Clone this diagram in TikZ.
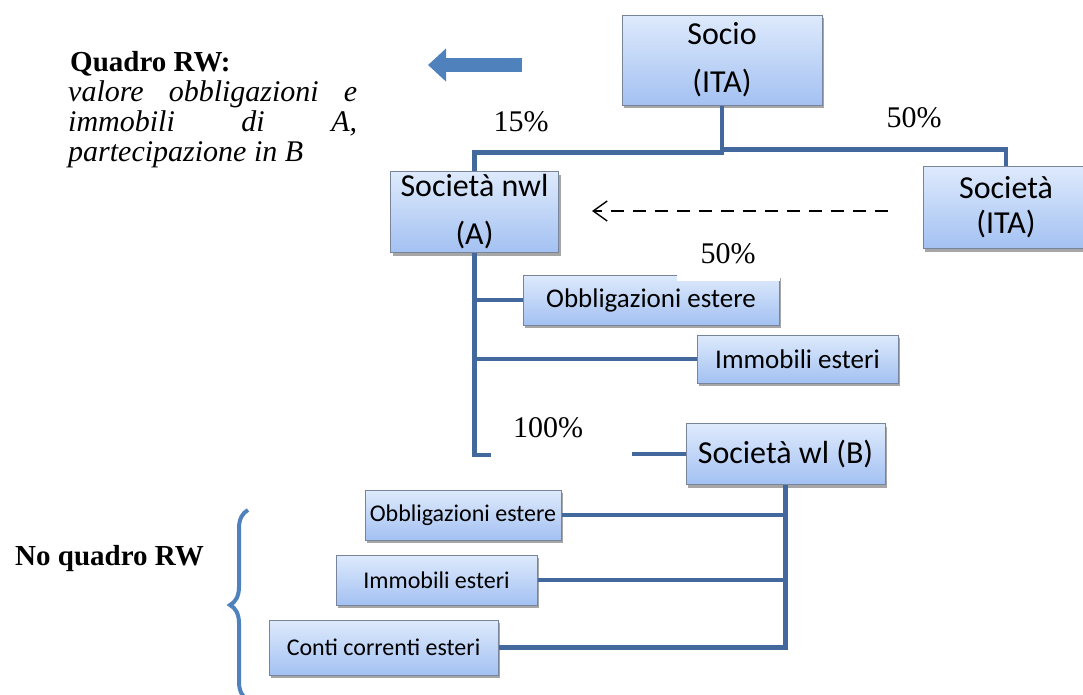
\documentclass[tikz,border=0pt]{standalone}
\usepackage{fontspec}
\setmainfont{Liberation Serif}
\newfontfamily\boxfont{Carlito}
\usetikzlibrary{arrows.meta,shadows,decorations.pathreplacing}
\definecolor{boxtop}{RGB}{222,234,252}
\definecolor{boxbot}{RGB}{163,193,242}
\definecolor{boxline}{RGB}{120,132,155}
\definecolor{linkblue}{RGB}{66,104,158}
\definecolor{arrowblue}{RGB}{79,129,189}

\begin{document}
\begin{tikzpicture}[x=1pt,y=-1pt,
    box/.style={draw=boxline,line width=1pt,top color=boxtop,bottom color=boxbot,
      drop shadow={shadow xshift=2pt,shadow yshift=-3pt,fill=black!50,opacity=0.7},
      inner sep=0pt,align=center},
    big/.style={box,font=\boxfont\fontsize{32}{48}\selectfont},
    mid/.style={box,font=\boxfont\fontsize{27}{30}\selectfont},
    small/.style={box,font=\boxfont\fontsize{24}{26}\selectfont},
    link/.style={draw=linkblue,line width=4.5pt},
    pct/.style={font=\fontsize{30}{30}\selectfont,inner sep=0pt,anchor=base},
    note/.style={font=\bfseries\fontsize{29}{30}\selectfont,inner sep=0pt,anchor=base west}]
  \useasboundingbox (0,0) rectangle (1083,694);

  \node[big,minimum width=200pt,minimum height=90pt] (socio) at (722,60) {Socio\\(ITA)};
  \node[big,minimum width=168pt,minimum height=81pt] (nwl) at (474.5,212) {Società nwl\\(A)};
  \node[big,minimum width=166pt,minimum height=82pt,font=\boxfont\fontsize{32}{35}\selectfont] (socita) at (1006,207.5) {Società\\(ITA)};
  \node[big,minimum width=199pt,minimum height=61pt] (wl) at (785.5,454) {Società wl (B)};
  \node[mid,minimum width=256pt,minimum height=50pt] (obbA) at (651,300) {Obbligazioni estere};
  \node[mid,minimum width=201pt,minimum height=48pt] (immA) at (797.5,359) {Immobili esteri};
  \node[small,minimum width=196pt,minimum height=50pt] (obbB) at (463,515) {Obbligazioni estere};
  \node[small,minimum width=201pt,minimum height=50pt] (immB) at (436.5,580) {Immobili esteri};
  \node[small,minimum width=229pt,minimum height=55pt] (contB) at (383.5,647.5) {Conti correnti esteri};

  \draw[link] (socio.south) -- ++(0,47) -| (nwl.north);
  \draw[link] (socio.south) -- ++(0,44) -| (socita.north);

  \coordinate (stubA) at (491,455);
  \draw[link] (nwl.south) |- (stubA);
  \draw[link] (obbA.west) -- (obbA.west -| nwl.south);
  \draw[link] (immA.west) -- (immA.west -| nwl.south);
  \coordinate (stubB) at (632,454);
  \draw[link] (stubB) -- (wl.west);

  \draw[link] (wl.south) |- (contB.east);
  \draw[link] (obbB.east) -- (obbB.east -| wl.south);
  \draw[link] (immB.east) -- (immB.east -| wl.south);

  \coordinate (dashfrom) at (888,211);
  \coordinate (dashto) at (592,211);
  \draw[dash pattern=on 13pt off 9pt,line width=1.4pt,-{Straight Barb[length=14pt,width=20pt]}] (dashfrom) -- (dashto);

  \coordinate (rwfrom) at (522,65);
  \coordinate (rwto) at (428,65);
  \draw[arrowblue,line width=14pt,-{Triangle[length=18pt,width=32pt]}] (rwfrom) -- (rwto);

  \coordinate (bracetop) at (248,510);
  \coordinate (bracebot) at (248,700);
  \draw[arrowblue,line width=4pt,decorate,decoration={brace,amplitude=18pt}] (bracebot) -- (bracetop);

  \node[pct] (p15) at (521,131) {15\%};
  \node[pct] (p50a) at (914,127) {50\%};
  \node[pct,fill=white,inner xsep=24pt,inner ysep=18pt] (p50b) at (728,263) {50\%};
  \node[pct] (p100) at (548,437) {100\%};

  \node[note] (quadro) at (70,71) {Quadro RW:};
  \node[font=\itshape\fontsize{30}{30}\selectfont,text width=289pt,align=justify,anchor=north west,inner sep=0pt] (rwtext) at (68,80)
    {valore\hfill obbligazioni\hfill e\\immobili\hfill di\hfill A,\\partecipazione in B};
  \node[note] (noquadro) at (15,565) {No quadro RW};
\end{tikzpicture}
\end{document}
